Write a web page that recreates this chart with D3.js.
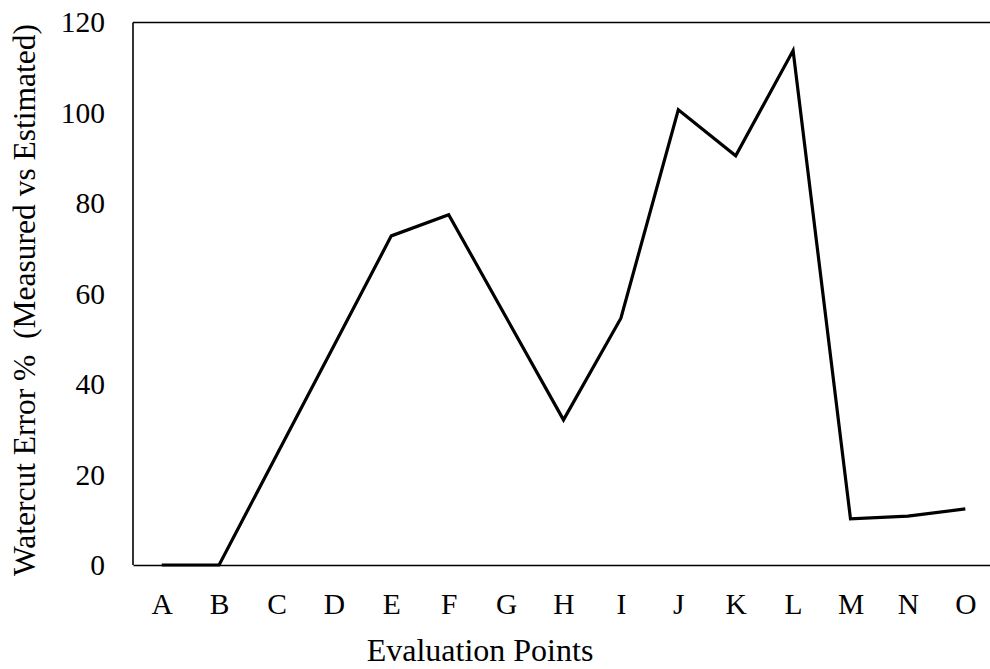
<!DOCTYPE html>
<html>
<head>
<meta charset="utf-8">
<script src="https://cdn.jsdelivr.net/npm/d3@7"></script>
<style>
  html, body { margin: 0; padding: 0; background: #fff; }
  svg { display: block; }
  text { font-family: "Liberation Serif", "Times New Roman", serif; fill: #000; }
</style>
</head>
<body>
<svg id="chart" width="990" height="669"></svg>
<script>
const categories = ["A","B","C","D","E","F","G","H","I","J","K","L","M","N","O"];
const values = [0, 0, 24.3, 48.5, 72.8, 77.5, 54.8, 32.1, 54.6, 100.7, 90.5, 113.8, 10.2, 10.8, 12.4];
const yTicks = [0, 20, 40, 60, 80, 100, 120];
const xTitle = "Evaluation Points";
const yTitle = "Watercut Error %\u00a0 (Measured vs Estimated)";

const svg = d3.select("#chart");
const mLeft = 133, mRight = 994, mTop = 22.5, mBottom = 565;

const x = d3.scalePoint().domain(categories).range([mLeft, mRight]).padding(0.5);
const y = d3.scaleLinear().domain([0, 120]).range([mBottom, mTop]);

// frame (left, top, right), bottom axis
svg.append("line").attr("x1", mLeft).attr("x2", mLeft).attr("y1", mTop).attr("y2", mBottom)
  .attr("stroke", "#000").attr("stroke-width", 1.6);
svg.append("line").attr("x1", mLeft).attr("x2", mRight).attr("y1", mTop).attr("y2", mTop)
  .attr("stroke", "#000").attr("stroke-width", 1.6);
svg.append("line").attr("x1", mRight).attr("x2", mRight).attr("y1", mTop).attr("y2", mBottom)
  .attr("stroke", "#000").attr("stroke-width", 1.6);

const xAxis = svg.append("g").attr("transform", `translate(0,${mBottom})`)
  .call(d3.axisBottom(x).tickSize(0).tickPadding(28));
xAxis.select(".domain").attr("stroke", "#000").attr("stroke-width", 1.6);
xAxis.selectAll("text").attr("font-size", 29.5).attr("font-family", "Liberation Serif");

const yAxis = svg.append("g").attr("transform", `translate(${mLeft},0)`)
  .call(d3.axisLeft(y).tickValues(yTicks).tickSize(0).tickPadding(28));
yAxis.select(".domain").remove();
yAxis.selectAll("text").attr("font-size", 29.5).attr("font-family", "Liberation Serif");

// line
const line = d3.line().x((d, i) => x(categories[i])).y(d => y(d));
svg.append("path").datum(values).attr("d", line)
  .attr("fill", "none").attr("stroke", "#000").attr("stroke-width", 3.2)
  .attr("stroke-linejoin", "miter");

// titles
svg.append("text").attr("x", 480).attr("y", 661).attr("text-anchor", "middle")
  .attr("font-size", 32).text(xTitle);
svg.append("text").attr("transform", "translate(35,300) rotate(-90)")
  .attr("text-anchor", "middle").attr("font-size", 31.5).text(yTitle);
</script>
</body>
</html>
